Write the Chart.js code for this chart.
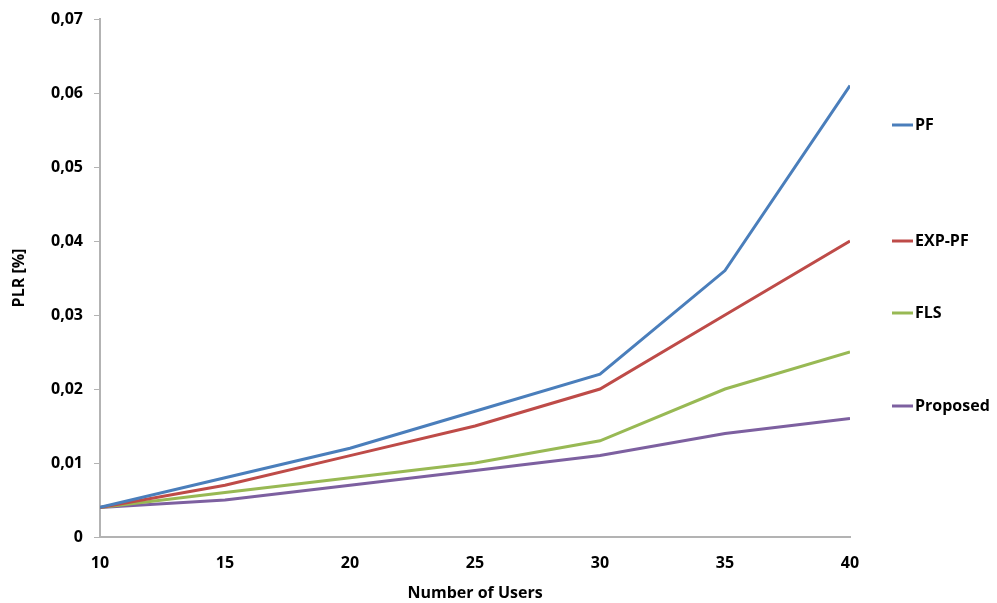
<!DOCTYPE html>
<html>
<head>
<meta charset="utf-8">
<script src="https://cdn.jsdelivr.net/npm/chart.js@4/dist/chart.umd.min.js"></script>
<style>
html,body{margin:0;padding:0;background:#fff;}
#c{display:block;}
</style>
</head>
<body>
<canvas id="c" width="997" height="603"></canvas>
<script>
const users = [10, 15, 20, 25, 30, 35, 40];
const seriesNames = ['PF', 'EXP-PF', 'FLS', 'Proposed'];
const pf = [0.004, 0.008, 0.012, 0.017, 0.022, 0.036, 0.061];
const expPf = [0.004, 0.007, 0.011, 0.015, 0.020, 0.030, 0.040];
const fls = [0.004, 0.006, 0.008, 0.010, 0.013, 0.020, 0.025];
const proposed = [0.004, 0.005, 0.007, 0.009, 0.011, 0.014, 0.016];
const yTicks = [0, 0.01, 0.02, 0.03, 0.04, 0.05, 0.06, 0.07];

const colors = ['#4a7ebb', '#be4b48', '#98b954', '#7d60a0'];
const seriesValues = [pf, expPf, fls, proposed];
const FONT = '"Open Sans", "DejaVu Sans", sans-serif';

const datasets = seriesNames.map((n, i) => ({
  label: n,
  data: users.map((u, j) => ({x: u, y: seriesValues[i][j]})),
  borderColor: colors[i],
  backgroundColor: colors[i],
  borderWidth: 3,
  pointRadius: 0,
  tension: 0,
  fill: false
}));

const legendYs = [125, 241, 313, 406];
const sideLegend = {
  id: 'sideLegend',
  afterDraw(chart) {
    const ctx = chart.ctx;
    ctx.save();
    chart.data.datasets.forEach((ds, i) => {
      const y = legendYs[i];
      ctx.strokeStyle = ds.borderColor;
      ctx.lineWidth = 3;
      ctx.beginPath();
      ctx.moveTo(892, y);
      ctx.lineTo(913, y);
      ctx.stroke();
      ctx.fillStyle = '#000';
      ctx.font = 'bold 16px ' + FONT;
      ctx.textAlign = 'left';
      ctx.textBaseline = 'middle';
      ctx.fillText(ds.label, 915, y);
    });
    ctx.restore();
  }
};

new Chart(document.getElementById('c'), {
  type: 'line',
  data: {datasets},
  options: {
    responsive: false,
    animation: false,
    layout: {padding: {left: 0, right: 147, top: 17, bottom: 0}},
    plugins: {legend: {display: false}, tooltip: {enabled: false}},
    scales: {
      x: {
        type: 'linear',
        min: 10, max: 40,
        afterBuildTicks(scale) { scale.ticks = users.map(v => ({value: v})); },
        afterFit(scale) { scale.height = 66; },
        grid: {display: false, drawTicks: false},
        border: {display: true, color: '#b3b3b3', width: 2},
        ticks: {
          color: '#000',
          padding: 17,
          font: {family: FONT, size: 16, weight: 'bold'},
          maxRotation: 0
        },
        title: {
          display: true,
          text: 'Number of Users',
          color: '#000',
          font: {family: FONT, size: 16, weight: 'bold'},
          padding: {top: 0, bottom: 0}
        }
      },
      y: {
        min: 0, max: 0.07,
        afterBuildTicks(scale) { scale.ticks = yTicks.map(v => ({value: v})); },
        afterFit(scale) { scale.width = 100; },
        grid: {drawOnChartArea: false, drawTicks: true, tickLength: 6, color: '#b3b3b3', lineWidth: 1},
        border: {display: true, color: '#b3b3b3', width: 2},
        ticks: {
          color: '#000',
          padding: 11,
          font: {family: FONT, size: 16, weight: 'bold', lineHeight: 1.0},
          callback: v => v === 0 ? '0' : v.toFixed(2).replace('.', ',')
        },
        title: {
          display: true,
          text: 'PLR [%]',
          color: '#000',
          font: {family: FONT, size: 16, weight: 'bold'},
          padding: {top: 10, bottom: 0}
        }
      }
    }
  },
  plugins: [sideLegend]
});
</script>
</body>
</html>
